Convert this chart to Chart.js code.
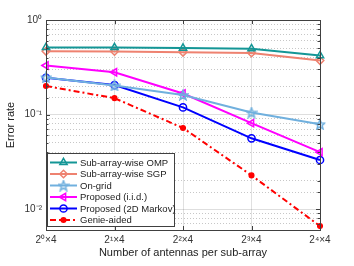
<!DOCTYPE html>
<html><head><meta charset="utf-8">
<script src="https://cdn.jsdelivr.net/npm/chart.js@4"></script>
<style>html,body{margin:0;padding:0;background:#fff}#w{width:354px;height:266px}</style>
</head><body><div id="w"><canvas id="c" width="354" height="266"></canvas></div>
<script>
const categories = ['2⁰×4','2¹×4','2²×4','2³×4','2⁴×4'];
const omp    = [0.513, 0.512, 0.505, 0.497, 0.420];
const sgp    = [0.466, 0.465, 0.455, 0.448, 0.372];
const ongrid = [0.247, 0.203, 0.161, 0.105, 0.079];
const iid    = [0.330, 0.280, 0.167, 0.081, 0.040];
const markov = [0.245, 0.205, 0.119, 0.056, 0.033];
const genie  = [0.200, 0.149, 0.072, 0.0227, 0.0066];
const seriesNames = ['Sub-array-wise OMP','Sub-array-wise SGP','On-grid','Proposed (i.i.d.)','Proposed (2D Markov)','Genie-aided'];
const yTickLabels = {1:'10⁰', 0.1:'10⁻¹', 0.01:'10⁻²'};

function starImg(color){
  const s=12, c=document.createElement('canvas'); c.width=s; c.height=s;
  const g=c.getContext('2d'); g.strokeStyle=color; g.lineWidth=1.5; g.lineJoin='miter';
  g.beginPath();
  for(let i=0;i<10;i++){const r=i%2?2.2:5.2, a=-Math.PI/2+i*Math.PI/5;
    const x=s/2+r*Math.cos(a), y=s/2+0.5+r*Math.sin(a); i?g.lineTo(x,y):g.moveTo(x,y);}
  g.closePath(); g.stroke(); return c;
}
const cols=['rgb(20,150,150)','rgb(238,130,112)','rgb(112,176,222)','rgb(255,0,255)','rgb(0,0,255)','rgb(255,0,0)'];
const star=starImg(cols[2]);
function ds(i,data,style,extra){
  return Object.assign({label:seriesNames[i],data,borderColor:cols[i],backgroundColor:'rgba(0,0,0,0)',
    pointBorderColor:cols[i],borderWidth:2,pointBorderWidth:1.5,pointRadius:4,pointStyle:style,tension:0},extra||{});
}
const datasets=[
  ds(0,omp,'triangle',{pointRadius:4.2}),
  ds(1,sgp,'rectRot',{pointRadius:3.8}),
  ds(2,ongrid,star),
  ds(3,iid,'triangle',{pointRotation:-90,pointRadius:4.2}),
  ds(4,markov,'circle',{pointRadius:3.6}),
  ds(5,genie,'circle',{pointRadius:2.3,pointBackgroundColor:cols[5],borderDash:[6,3,2,3]})
];
const frame={id:'frame',afterDraw(ch){
  const g=ch.ctx,a=ch.chartArea,ys=ch.scales.y,xs=ch.scales.x;
  g.save(); g.strokeStyle='#404040'; g.lineWidth=1;
  g.beginPath();
  ys.ticks.forEach(t=>{const p=Math.round(ys.getPixelForValue(t.value))+0.5;
    const L=yTickLabels[t.value]?4:2.5;
    g.moveTo(a.left,p);g.lineTo(a.left+L,p);g.moveTo(a.right,p);g.lineTo(a.right-L,p);});
  xs.ticks.forEach((t,i)=>{const p=Math.round(xs.getPixelForValue(i))+0.5;
    g.moveTo(p,a.bottom);g.lineTo(p,a.bottom-4);g.moveTo(p,a.top);g.lineTo(p,a.top+4);});
  g.stroke();
  g.strokeRect(Math.round(a.left)+0.5,Math.round(a.top)+0.5,Math.round(a.right-a.left),Math.round(a.bottom-a.top));
  // legend
  const bx=47.5,by=153.5,bw=127,bh=73;
  g.fillStyle='#fff'; g.fillRect(bx,by,bw,bh); g.strokeStyle='#404040'; g.strokeRect(bx,by,bw,bh);
  g.font='9.5px "Liberation Sans", Arial, sans-serif'; g.textBaseline='middle'; g.textAlign='left';
  ch.data.datasets.forEach((d,i)=>{
    const y=162.5+i*11.5;
    g.save(); g.strokeStyle=d.borderColor; g.lineWidth=2; g.setLineDash(d.borderDash||[]);
    g.beginPath(); g.moveTo(50,y); g.lineTo(77,y); g.stroke(); g.restore();
    g.save(); g.strokeStyle=d.borderColor; g.fillStyle=d.pointBackgroundColor||'rgba(0,0,0,0)'; g.lineWidth=1.5;
    Chart.helpers.drawPoint(g,{pointStyle:d.pointStyle,rotation:d.pointRotation||0,radius:d.pointRadius,borderWidth:1.5},63.5,y);
    g.restore();
    g.fillStyle='#222'; g.fillText(d.label,80,y+0.5);
  });
  g.restore();
}};
new Chart(document.getElementById('c'),{
  type:'line',
  data:{labels:categories,datasets},
  options:{responsive:false,animation:false,
    layout:{padding:{top:20,right:34,left:0,bottom:0}},
    plugins:{legend:{display:false},tooltip:{enabled:false}},
    scales:{
      x:{type:'category',offset:false,
        grid:{color:'rgba(0,0,0,0.12)',drawTicks:false},
        border:{display:false},
        ticks:{padding:4,color:'#333',font:{family:'"Liberation Sans", Arial, sans-serif',size:10},maxRotation:0,autoSkip:false},
        title:{display:true,text:'Number of antennas per sub-array',color:'#222',font:{family:'"Liberation Sans", Arial, sans-serif',size:11},padding:{top:0,bottom:6}},
        afterFit(s){s.height=36;}
      },
      y:{type:'logarithmic',min:0.006,max:1,
        grid:{drawTicks:false,color:c=>yTickLabels[c.tick&&c.tick.value]?'rgba(0,0,0,0.13)':'rgba(0,0,0,0.22)'},
        border:{display:false,dash:c=>yTickLabels[c.tick&&c.tick.value]?[]:[1,2]},
        ticks:{autoSkip:false,padding:4,color:'#333',font:{family:'"Liberation Sans", Arial, sans-serif',size:10},
          callback:v=>yTickLabels[v]||''},
        title:{display:true,text:'Error rate',color:'#222',font:{family:'"Liberation Sans", Arial, sans-serif',size:11},padding:{top:4,bottom:0}},
        afterFit(s){s.width=46;}
      }
    }
  },
  plugins:[frame]
});
</script></body></html>
